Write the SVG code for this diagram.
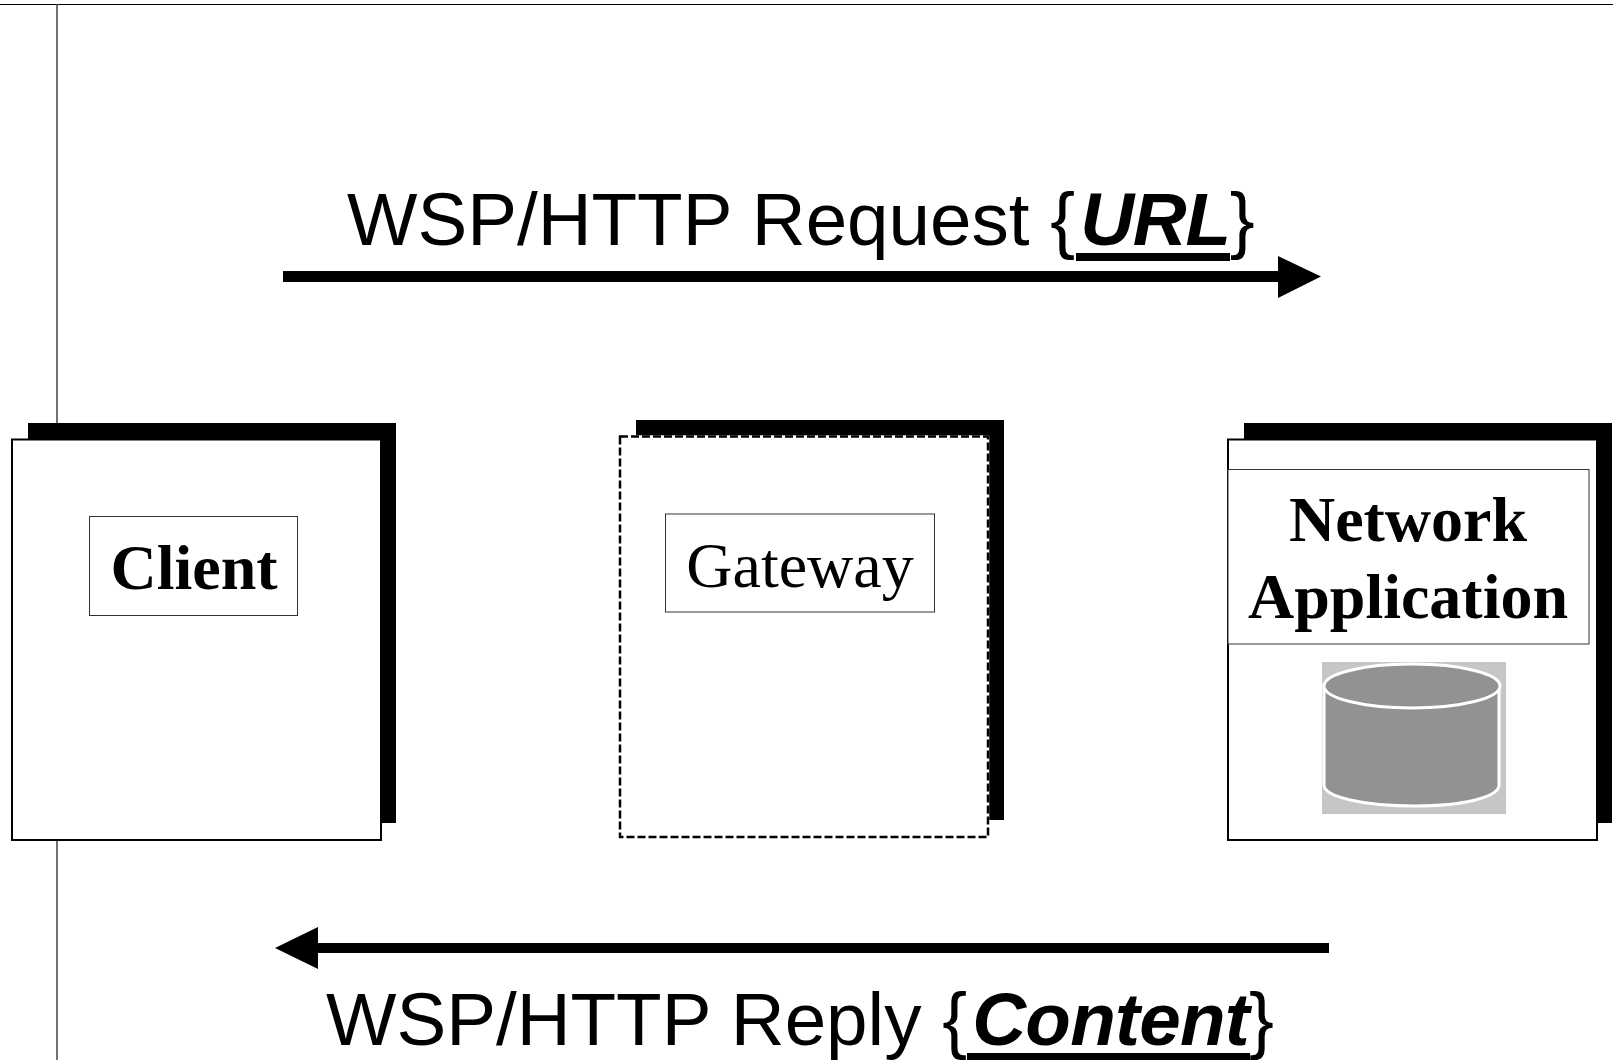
<svg xmlns="http://www.w3.org/2000/svg" width="1613" height="1060" viewBox="0 0 1613 1060">
<style>
.shadow{fill:#000}
.box{fill:#fff;stroke:#000;stroke-width:2}
.dashbase{fill:#fff;stroke:#fff;stroke-width:2.500}
.dash{fill:none;stroke:#000;stroke-width:2.500;stroke-dasharray:8 3}
.label{fill:#fff;stroke:#333;stroke-width:1}
.serif{font-family:"Liberation Serif",serif;font-size:64px;fill:#000;text-anchor:middle}
.b{font-weight:bold}
.sans{font-family:"Liberation Sans",Arial,sans-serif;font-size:74.6px;fill:#000}
.em{font-weight:bold;font-style:italic}
.rule{stroke:#444;stroke-width:1.5;fill:none}
.conn{fill:#000;stroke:none}
</style>
<rect width="1613" height="1060" fill="#fff"/>
<g id="frame">
<line x1="0" y1="4.5" x2="1613" y2="4.5" stroke="#000" stroke-width="1"/>
<line class="rule" x1="57" y1="4" x2="57" y2="1060"/>
</g>
<g id="client">
<rect class="shadow" x="28" y="423" width="368" height="400"/>
<rect class="box" x="12" y="439.500" width="369" height="400.500"/>
<rect class="label" x="89.500" y="516.500" width="208" height="99"/>
<text class="serif b" x="194" y="589">Client</text>
</g>
<g id="gateway">
<rect class="shadow" x="636" y="420" width="368" height="400"/>
<rect class="dashbase" x="620" y="436.500" width="368" height="400.500"/>
<rect class="dash" x="620" y="436.500" width="368" height="400.500"/>
<rect class="label" x="665.500" y="514" width="269" height="98"/>
<text class="serif" x="800" y="587">Gateway</text>
</g>
<g id="network-application">
<rect class="shadow" x="1244" y="423" width="368" height="400"/>
<rect class="box" x="1228" y="439.500" width="369" height="400.500"/>
<rect class="label" x="1228" y="469.500" width="361" height="174.500"/>
<text class="serif b" x="1408" y="541">Network</text>
<text class="serif b" x="1408" y="618">Application</text>
<rect x="1322" y="662" width="184" height="152" fill="#c6c6c6"/>
<path d="M1324 685V785C1324 797 1364 806 1414 806S1499 797 1499 785V685Z" fill="#929292" stroke="#fff" stroke-width="3"/>
<ellipse cx="1412" cy="686" rx="88" ry="22" fill="#929292" stroke="#fff" stroke-width="3"/>
</g>
<g id="connectors">
<path class="conn" d="M283 271H1278V256L1321 276.500L1278 298V282H283Z"/>
<path class="conn" d="M1329 943H318V927L275 948L318 969V953H1329Z"/>
</g>
<g id="request-label">
<text class="sans" x="347" y="245">WSP/HTTP Request {<tspan class="em" dx="5" letter-spacing="-1.300">URL</tspan>}</text>
<rect x="1076" y="253" width="154" height="8"/>
</g>
<g id="reply-label">
<text class="sans" x="326" y="1045">WSP/HTTP Reply {<tspan class="em" dx="5" letter-spacing="-0.700">Content</tspan>}</text>
<rect x="967" y="1053" width="283" height="7"/>
</g>
</svg>
